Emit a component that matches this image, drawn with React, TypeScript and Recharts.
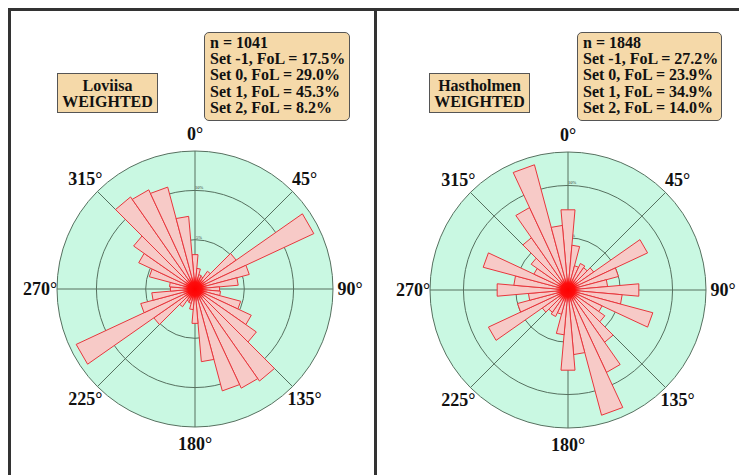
import React from "react";
import {
  RadialBarChart,
  RadialBar,
  RadarChart,
  PolarAngleAxis,
  PolarRadiusAxis,
  PolarGrid,
} from "recharts";

// 10° bins centred on 0, 10, ... 350 (azimuth, clockwise from north)
const binCenters = [
  0, 10, 20, 30, 40, 50, 60, 70, 80, 90, 100, 110, 120, 130, 140, 150, 160, 170,
  180, 190, 200, 210, 220, 230, 240, 250, 260, 270, 280, 290, 300, 310, 320, 330, 340, 350,
];

// weighted frequency per bin, %
const loviisaFreq = [
  3.5, 2.1, 1.5, 1.4, 2.2, 5.1, 13.3, 5.7, 4.4, 2.5, 2.6, 4.8, 6.3, 7.6, 11.4, 11.1, 10.7, 7.4,
  3.5, 2.1, 1.5, 1.4, 2.2, 5.1, 13.3, 5.7, 4.4, 2.5, 2.6, 4.8, 6.3, 7.6, 11.4, 11.1, 10.7, 7.4,
];
const hastholmenFreq = [
  7.7, 4.3, 2.4, 2.8, 2.6, 3.0, 8.4, 5.0, 3.8, 6.8, 5.2, 8.4, 3.6, 4.3, 6.1, 8.7, 12.4, 6.2,
  7.7, 4.3, 2.4, 2.8, 2.6, 3.0, 8.4, 5.0, 3.8, 6.8, 5.2, 8.4, 3.6, 4.3, 6.1, 8.7, 12.4, 6.2,
];

const compassTicks = [0, 45, 90, 135, 180, 225, 270, 315];
const ringTicks = [5, 10];

const loviisaStats = ["n = 1041", "Set -1, FoL = 17.5%", "Set 0, FoL = 29.0%", "Set 1, FoL = 45.3%", "Set 2, FoL = 8.2%"];
const hastholmenStats = ["n = 1848", "Set -1, FoL = 27.2%", "Set 0, FoL = 23.9%", "Set 1, FoL = 34.9%", "Set 2, FoL = 14.0%"];

const SERIF = "'Liberation Serif', 'Times New Roman', serif";
const OUTER_R = 138;
const CHART_H = 460;
const MINT = "#c9f8e2";
const TAN = "#f5d9a9";

const RAD = Math.PI / 180;
const polar = (cx: number, cy: number, r: number, angle: number) => ({
  x: cx + r * Math.cos(-angle * RAD),
  y: cy + r * Math.sin(-angle * RAD),
});

// straight-edged wedge per bin, plus the red hub drawn with the last one
const makeWedge = (id: string, lastIndex: number) => (props: any) => {
  const { cx, cy, outerRadius, startAngle, endAngle, index } = props;
  const a = polar(cx, cy, outerRadius, startAngle);
  const b = polar(cx, cy, outerRadius, endAngle);
  return (
    <g>
      <polygon
        points={`${cx},${cy} ${a.x},${a.y} ${b.x},${b.y}`}
        fill="#f7cac7"
        stroke="#e8363c"
        strokeWidth={1}
      />
      {index === lastIndex && (
        <g>
          <defs>
            <radialGradient id={id}>
              <stop offset="0%" stopColor="#ff0000" stopOpacity={1} />
              <stop offset="55%" stopColor="#ff0a0a" stopOpacity={0.95} />
              <stop offset="100%" stopColor="#ff2020" stopOpacity={0} />
            </radialGradient>
          </defs>
          <circle cx={cx} cy={cy} r={13} fill={`url(#${id})`} />
        </g>
      )}
    </g>
  );
};

const CompassTick = (props: any) => {
  const { x, y, payload } = props;
  return (
    <text
      x={x}
      y={y}
      textAnchor="middle"
      dominantBaseline="central"
      fontFamily={SERIF}
      fontWeight="bold"
      fontSize={18}
      fill="#111"
    >
      {`${payload.value}°`}
    </text>
  );
};

const RingTick = (props: any) => {
  const { x, y, payload } = props;
  if (!ringTicks.includes(payload.value)) return <g />;
  return (
    <text x={x + 4} y={y - 1} textAnchor="middle" fontFamily={SERIF} fontSize={4.5} fill="#333">
      {`${payload.value}%`}
    </text>
  );
};

type RoseProps = {
  id: string;
  freq: number[];
  rMax: number;
  left: number;
  width: number;
  cx: number;
  cy: number;
};

const Rose = ({ id, freq, rMax, left, width, cx, cy }: RoseProps) => {
  const data = binCenters.map((deg, i) => ({ deg, freq: freq[i] }));
  const compassData = compassTicks.map((deg) => ({ deg }));
  const layer = { position: "absolute" as const, left, top: 0 };
  return (
    <>
      <div
        style={{
          position: "absolute",
          left: left + cx - OUTER_R,
          top: cy - OUTER_R,
          width: OUTER_R * 2,
          height: OUTER_R * 2,
          borderRadius: "50%",
          background: MINT,
        }}
      />
      {/* grid, rings and compass labels */}
      <div style={layer}>
        <RadarChart
          width={width}
          height={CHART_H}
          data={compassData}
          cx={cx}
          cy={cy}
          outerRadius={OUTER_R}
          startAngle={90}
          endAngle={-270}
          margin={{ top: 0, right: 0, bottom: 0, left: 0 }}
        >
          <PolarGrid gridType="circle" stroke="#56705f" strokeWidth={1} />
          <PolarAngleAxis dataKey="deg" tick={CompassTick} tickSize={17} axisLine={false} tickLine={false} />
          <PolarRadiusAxis
            type="number"
            domain={[0, rMax]}
            allowDataOverflow
            ticks={[...ringTicks, rMax]}
            angle={90}
            axisLine={false}
            tickLine={false}
            tick={RingTick}
          />
        </RadarChart>
      </div>
      {/* rose petals; band angles start half a bin past north so each bin is centred on its azimuth */}
      <div style={layer}>
        <RadialBarChart
          width={width}
          height={CHART_H}
          data={data}
          cx={cx}
          cy={cy}
          innerRadius={0}
          outerRadius={OUTER_R}
          startAngle={85}
          endAngle={-275}
          layout="centric"
          barCategoryGap="0%"
          margin={{ top: 0, right: 0, bottom: 0, left: 0 }}
        >
          <PolarAngleAxis type="category" dataKey="deg" tick={false} axisLine={false} tickLine={false} />
          <PolarRadiusAxis type="number" domain={[0, rMax]} allowDataOverflow tick={false} axisLine={false} tickLine={false} />
          <RadialBar dataKey="freq" shape={makeWedge(`${id}-hub`, binCenters.length - 1)} isAnimationActive={false} />
        </RadialBarChart>
      </div>
    </>
  );
};

const NameBox = ({ left, width, name }: { left: number; width: number; name: string }) => (
  <div
    style={{
      position: "absolute",
      left,
      top: 65,
      width,
      height: 40,
      boxSizing: "border-box",
      background: TAN,
      border: "1.5px solid #555",
      fontFamily: SERIF,
      fontWeight: "bold",
      fontSize: 16,
      lineHeight: "16px",
      textAlign: "center",
      paddingTop: 4,
      color: "#111",
    }}
  >
    <div>{name}</div>
    <div>WEIGHTED</div>
  </div>
);

const StatsBox = ({ left, width, lines }: { left: number; width: number; lines: string[] }) => (
  <div
    style={{
      position: "absolute",
      left,
      top: 24,
      width,
      height: 89,
      boxSizing: "border-box",
      background: TAN,
      border: "1.5px solid #555",
      borderRadius: 5,
      fontFamily: SERIF,
      fontWeight: "bold",
      fontSize: 16,
      lineHeight: "16.2px",
      paddingTop: 2,
      paddingLeft: 5,
      color: "#111",
      whiteSpace: "nowrap",
    }}
  >
    {lines.map((l) => (
      <div key={l}>{l}</div>
    ))}
  </div>
);

export default function App() {
  return (
    <div style={{ position: "relative", width: 739, height: 467, overflow: "hidden" }}>
      <Rose id="loviisa" freq={loviisaFreq} rMax={14} left={0} width={367} cx={187} cy={281} />
      <Rose id="hastholmen" freq={hastholmenFreq} rMax={13.2} left={370} width={369} cx={190} cy={282} />

      <NameBox left={49} width={101} name="Loviisa" />
      <StatsBox left={196} width={146} lines={loviisaStats} />
      <NameBox left={421} width={101} name="Hastholmen" />
      <StatsBox left={569} width={145} lines={hastholmenStats} />

      {/* panel frame */}
      <div style={{ position: "absolute", left: 0, top: 0, width: 739, height: 2.5, background: "#333" }} />
      <div style={{ position: "absolute", left: 0, top: 0, width: 2.5, height: 467, background: "#333" }} />
      <div style={{ position: "absolute", left: 366, top: 0, width: 3, height: 467, background: "#333" }} />
    </div>
  );
}
